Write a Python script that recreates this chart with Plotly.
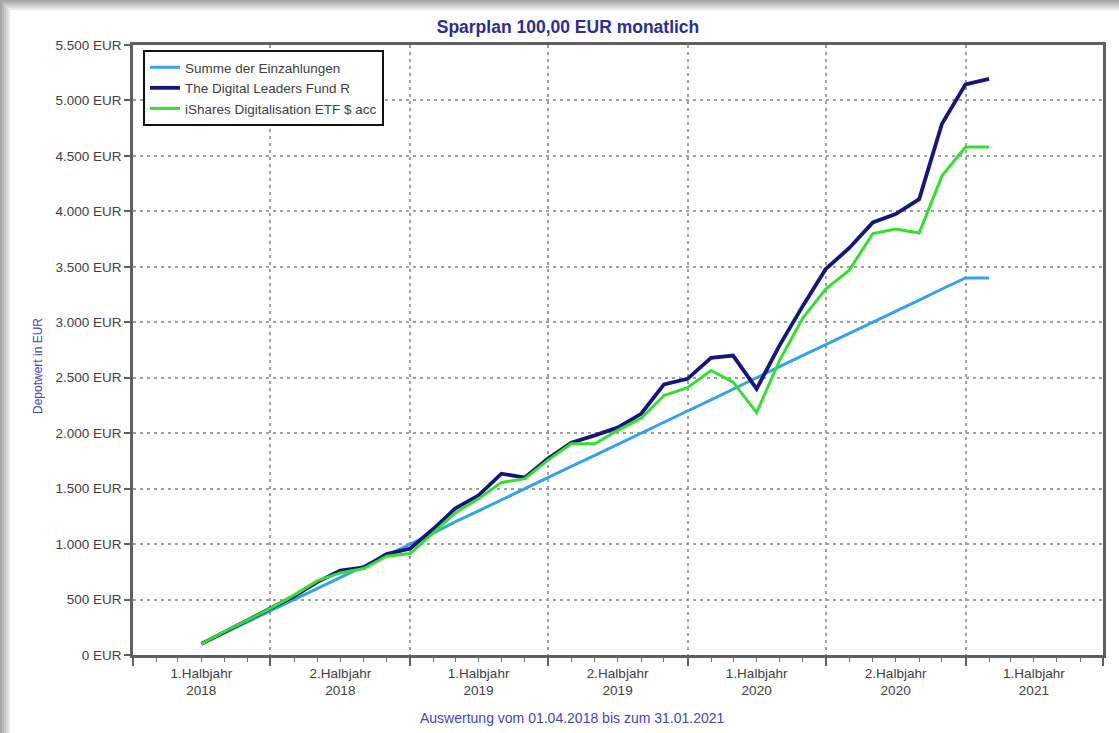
import plotly.graph_objects as go

# ---------------- data ----------------
months = ["2018-04-01", "2018-05-01", "2018-06-01", "2018-07-01", "2018-08-01", "2018-09-01",
          "2018-10-01", "2018-11-01", "2018-12-01", "2019-01-01", "2019-02-01", "2019-03-01",
          "2019-04-01", "2019-05-01", "2019-06-01", "2019-07-01", "2019-08-01", "2019-09-01",
          "2019-10-01", "2019-11-01", "2019-12-01", "2020-01-01", "2020-02-01", "2020-03-01",
          "2020-04-01", "2020-05-01", "2020-06-01", "2020-07-01", "2020-08-01", "2020-09-01",
          "2020-10-01", "2020-11-01", "2020-12-01", "2021-01-01", "2021-02-01"]

summe = [100, 200, 300, 400, 500, 600, 700, 800, 900, 1000, 1100, 1200,
         1300, 1400, 1500, 1600, 1700, 1800, 1900, 2000, 2100, 2200, 2300, 2400,
         2500, 2600, 2700, 2800, 2900, 3000, 3100, 3200, 3300, 3400, 3400]

digital_leaders = [100, 205, 310, 420, 530, 660, 760, 790, 910, 960, 1140, 1320,
                   1440, 1635, 1600, 1770, 1915, 1980, 2050, 2175, 2440, 2490, 2680, 2700,
                   2400, 2790, 3150, 3480, 3670, 3900, 3975, 4110, 4790, 5145, 5195]

ishares = [100, 210, 315, 420, 540, 670, 740, 780, 890, 915, 1105, 1280,
           1410, 1555, 1590, 1755, 1905, 1905, 2025, 2135, 2340, 2410, 2565, 2460,
           2185, 2655, 3040, 3300, 3470, 3800, 3840, 3805, 4320, 4580, 4580]

series_names = ["Summe der Einzahlungen", "The Digital Leaders Fund R",
                "iShares Digitalisation ETF $ acc"]

half_year_bounds = ["2018-01-01", "2018-07-01", "2019-01-01", "2019-07-01", "2020-01-01",
                    "2020-07-01", "2021-01-01", "2021-07-01"]
half_year_centers = ["2018-04-01", "2018-10-01", "2019-04-01", "2019-10-01",
                     "2020-04-01", "2020-10-01", "2021-04-01"]
half_year_labels = ["1.Halbjahr<br>2018", "2.Halbjahr<br>2018", "1.Halbjahr<br>2019",
                    "2.Halbjahr<br>2019", "1.Halbjahr<br>2020", "2.Halbjahr<br>2020",
                    "1.Halbjahr<br>2021"]

y_tick_vals = [0, 500, 1000, 1500, 2000, 2500, 3000, 3500, 4000, 4500, 5000, 5500]
y_tick_text = ["0 EUR", "500 EUR", "1.000 EUR", "1.500 EUR", "2.000 EUR", "2.500 EUR",
               "3.000 EUR", "3.500 EUR", "4.000 EUR", "4.500 EUR", "5.000 EUR", "5.500 EUR"]

title_text = "Sparplan 100,00 EUR monatlich"
y_title = "Depotwert in EUR"
footer_text = "Auswertung vom 01.04.2018 bis zum 31.01.2021"

# ---------------- figure ----------------
W, H = 1119, 733
ML, MR, MT, MB = 133, 16, 45, 78
PW, PH = W - ML - MR, H - MT - MB


def px_x(px):
    return (px - ML) / PW


def px_y(py):
    return (H - MB - py) / PH


FONT = "Liberation Sans, Arial, sans-serif"

fig = go.Figure()
fig.add_trace(go.Scatter(x=months, y=summe, name=series_names[0], mode="lines",
                         line=dict(color="#35a2ea", width=3)))
fig.add_trace(go.Scatter(x=months, y=digital_leaders, name=series_names[1], mode="lines",
                         line=dict(color="#16167c", width=3.8)))
fig.add_trace(go.Scatter(x=months, y=ishares, name=series_names[2], mode="lines",
                         line=dict(color="#33e02e", width=3)))
# invisible helper trace so the label axis is drawn
fig.add_trace(go.Scatter(x=months, y=summe, xaxis="x2", mode="lines", showlegend=False,
                         hoverinfo="skip", line=dict(color="rgba(0,0,0,0)", width=0)))

shapes = []
# soft shadow of the window frame (left and top)
shadow_cols = ["#a8a8a8", "#b8b8b8", "#c8c8c8", "#d8d8d8", "#e8e8e8"]
for i, c in enumerate(shadow_cols):
    shapes.append(dict(type="rect", xref="paper", yref="paper", layer="below",
                       x0=px_x(2 * i), x1=px_x(2 * i + 2), y0=px_y(H), y1=px_y(2 * i),
                       fillcolor=c, line=dict(width=0)))
    shapes.append(dict(type="rect", xref="paper", yref="paper", layer="below",
                       x0=px_x(2 * i), x1=px_x(W), y0=px_y(2 * i + 2), y1=px_y(2 * i),
                       fillcolor=c, line=dict(width=0)))

fig.update_layout(
    width=W, height=H,
    margin=dict(l=ML, r=MR, t=MT, b=MB),
    paper_bgcolor="white", plot_bgcolor="white",
    font=dict(family=FONT, size=13.5, color="#404040"),
    title=dict(text="<b>" + title_text + "</b>", x=568 / W, xref="container", xanchor="center",
               y=1 - 27 / H, yref="container", yanchor="middle",
               font=dict(family=FONT, size=17.5, color="#2c2c92")),
    showlegend=True,
    legend=dict(x=px_x(143), y=px_y(50), xanchor="left", yanchor="top",
                bgcolor="white", bordercolor="#111111", borderwidth=2,
                font=dict(family=FONT, size=13.5, color="#404040"),
                itemwidth=30, tracegroupgap=0),
    xaxis=dict(type="date", range=["2018-01-01", "2021-07-01"],
               tickmode="array", tickvals=half_year_bounds, showticklabels=False,
               ticks="outside", ticklen=8, tickwidth=1.5, tickcolor="#606060",
               showgrid=True, gridcolor="#a0a0a0", gridwidth=1.5, griddash="3px,4px",
               showline=True, linecolor="#606060", linewidth=2.5, mirror=True,
               zeroline=False,
               minor=dict(dtick="M1", tick0="2018-01-01", ticks="outside", ticklen=4,
                          tickwidth=1, tickcolor="#707070", showgrid=False)),
    xaxis2=dict(type="date", range=["2018-01-01", "2021-07-01"], overlaying="x",
                anchor="y", side="bottom",
                tickmode="array", tickvals=half_year_centers, ticktext=half_year_labels,
                ticks="", showgrid=False, showline=False, zeroline=False,
                ticklabelstandoff=8,
                tickfont=dict(family=FONT, size=13.5, color="#404040")),
    yaxis=dict(range=[0, 5500], tickmode="array", tickvals=y_tick_vals, ticktext=y_tick_text,
               ticks="outside", ticklen=6, tickwidth=1.5, tickcolor="#606060",
               showgrid=True, gridcolor="#a0a0a0", gridwidth=1.5, griddash="3px,4px",
               showline=True, linecolor="#606060", linewidth=2.5, mirror=True,
               zeroline=False, tickfont=dict(family=FONT, size=13.5, color="#404040")),
    shapes=shapes,
    annotations=[
        dict(text=y_title, x=px_x(38), y=px_y(366), xref="paper", yref="paper",
             textangle=-90, showarrow=False, xanchor="center", yanchor="middle",
             font=dict(family=FONT, size=12, color="#4444c4")),
        dict(text=footer_text, x=px_x(572), y=px_y(718), xref="paper", yref="paper",
             showarrow=False, xanchor="center", yanchor="middle",
             font=dict(family=FONT, size=14, color="#4444c4")),
    ],
)

fig.write_html("out.html",
               config={"displayModeBar": False},
               post_script="document.body.style.margin='0px';document.body.style.overflow='hidden';")
